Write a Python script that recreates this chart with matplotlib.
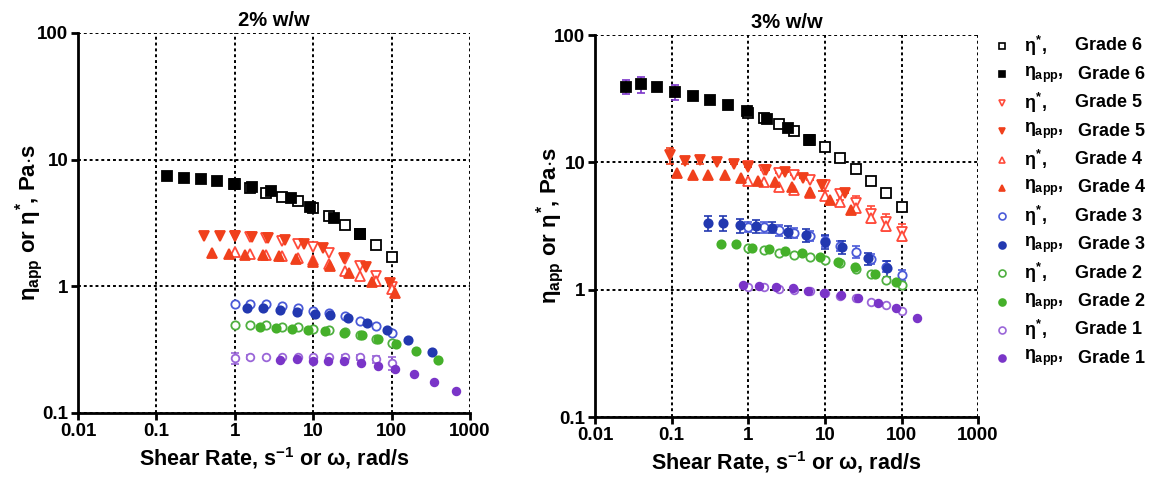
import matplotlib
matplotlib.use("Agg")
import matplotlib.pyplot as plt
from matplotlib.lines import Line2D

plt.rcParams['font.family'] = ['Liberation Sans', 'DejaVu Sans']
plt.rcParams['font.weight'] = 'bold'
plt.rcParams['mathtext.fontset'] = 'custom'
plt.rcParams['mathtext.rm'] = 'Liberation Sans:bold'
plt.rcParams['mathtext.it'] = 'Liberation Sans:bold'
plt.rcParams['mathtext.bf'] = 'Liberation Sans:bold'

# frequency sweep points used for eta*
omega = [1, 1.58, 2.51, 3.98, 6.31, 10, 15.8, 25.1, 39.8, 63.1, 100]

# ---- 2% w/w ----
g6_app_x_2 = [0.138, 0.225, 0.367, 0.588, 0.977, 1.64, 2.87, 5.16, 9.1, 18.4, 39.5]
g6_app_y_2 = [7.46, 7.2, 6.99, 6.74, 6.45, 6.04, 5.65, 5.0, 4.25, 3.46, 2.57]
g6_star_2 = [6.38, 5.95, 5.48, 5.1, 4.69, 4.13, 3.59, 3.06, 2.6, 2.13, 1.69]
g5_app_x_2 = [0.405, 0.648, 1.01, 1.67, 2.63, 4.37, 7.6, 13.2, 25, 46.8, 95]
g5_app_y_2 = [2.51, 2.51, 2.5, 2.45, 2.41, 2.32, 2.14, 2.0, 1.68, 1.41, 1.07]
g5_star_2 = [2.49, 2.45, 2.4, 2.29, 2.16, 2.03, 1.82, 1.65, 1.45, 1.21, 0.99]
g4_app_x_2 = [0.517, 0.851, 1.35, 2.31, 3.7, 6.04, 10, 16.4, 28.9, 55.7, 110]
g4_app_y_2 = [1.82, 1.80, 1.78, 1.76, 1.73, 1.65, 1.55, 1.45, 1.28, 1.09, 0.88]
g4_star_2 = [1.85, 1.80, 1.77, 1.73, 1.68, 1.60, 1.50, 1.33, 1.21, 1.10, 0.95]
g3_app_x_2 = [1.42, 2.31, 3.77, 6.15, 10.5, 16.4, 28, 48, 86.5, 163, 324]
g3_app_y_2 = [0.67, 0.67, 0.65, 0.63, 0.61, 0.594, 0.559, 0.516, 0.452, 0.377, 0.305]
g3_star_2 = [0.725, 0.725, 0.72, 0.70, 0.674, 0.635, 0.612, 0.583, 0.535, 0.486, 0.43]
g2_app_x_2 = [2.09, 3.35, 5.42, 8.67, 14.2, 24.7, 41.5, 66.4, 114, 205, 387]
g2_app_y_2 = [0.475, 0.466, 0.46, 0.452, 0.444, 0.43, 0.413, 0.386, 0.351, 0.309, 0.262]
g2_star_2 = [0.498, 0.492, 0.494, 0.48, 0.475, 0.46, 0.45, 0.439, 0.41, 0.386, 0.359]
g1_app_x_2 = [3.77, 6.15, 9.8, 15.5, 25, 41, 66.4, 110, 195, 351, 662]
g1_app_y_2 = [0.262, 0.265, 0.259, 0.259, 0.256, 0.249, 0.235, 0.221, 0.202, 0.177, 0.15]
g1_star_2 = [0.27, 0.275, 0.275, 0.278, 0.278, 0.278, 0.277, 0.278, 0.275, 0.265, 0.247]
g1_star_err_2 = [0.025, 0.01, 0, 0, 0, 0, 0, 0.01, 0.012, 0.015, 0.03]

# ---- 3% w/w ----
g6_app_x_3 = [0.025, 0.04, 0.065, 0.112, 0.188, 0.317, 0.55, 0.955, 1.74, 3.34, 6.28]
g6_app_y_3 = [39.3, 41, 39.3, 35.7, 33.2, 30.7, 28.2, 25.4, 22.1, 18.5, 15.0]
g6_app_err_3 = [5, 6, 3, 5, 0, 0, 0, 0, 0, 0, 0]
g6_star_3 = [24.3, 22.2, 20, 17.8, 15.0, 13.1, 10.9, 8.88, 7.15, 5.72, 4.5]
g5_app_x_3 = [0.095, 0.15, 0.235, 0.395, 0.65, 1.0, 1.7, 3.0, 5.24, 9.1, 18.4]
g5_app_y_3 = [11.4, 10.3, 10.4, 10.0, 9.7, 9.2, 8.7, 8.4, 7.6, 6.6, 5.7]
g5_app_err_3 = [1.6, 0.6, 0.6, 0, 0, 0, 0, 0, 0, 0.6, 0]
g5_star_3 = [9.3, 8.7, 8.2, 7.95, 7.3, 6.6, 5.6, 4.8, 3.95, 3.4, 2.85]
g5_star_err_3 = [0, 0, 0, 0, 0, 0.6, 0.5, 0.6, 0.6, 0.5, 0.45]
g4_app_x_3 = [0.116, 0.19, 0.30, 0.50, 0.805, 1.33, 2.24, 3.77, 6.4, 11.7, 22]
g4_app_y_3 = [8.2, 7.95, 7.95, 7.95, 7.49, 7.18, 6.97, 6.38, 5.88, 5.06, 4.22]
g4_star_3 = [7.1, 7.0, 6.45, 6.1, 5.8, 5.4, 4.9, 4.4, 3.65, 3.15, 2.65]
g3_app_x_3 = [0.30, 0.47, 0.77, 1.26, 2.03, 3.34, 5.7, 10.1, 16.6, 37, 64.3]
g3_app_y_3 = [3.36, 3.33, 3.21, 3.16, 3.08, 2.85, 2.69, 2.38, 2.17, 1.76, 1.47]
g3_app_err_3 = [0.45, 0.45, 0.4, 0.35, 0.3, 0.3, 0.3, 0.3, 0.25, 0.2, 0.2]
g3_star_3 = [3.12, 3.1, 2.95, 2.8, 2.65, 2.4, 2.2, 1.99, 1.75, 1.52, 1.30]
g3_star_err_3 = [0.3, 0.3, 0.3, 0.25, 0.25, 0.25, 0.2, 0.2, 0.15, 0.15, 0.12]
g2_app_x_3 = [0.437, 0.69, 1.11, 1.89, 3.02, 4.99, 8.65, 15, 24.8, 45, 85]
g2_app_y_3 = [2.27, 2.27, 2.13, 2.08, 2.01, 1.95, 1.81, 1.66, 1.5, 1.34, 1.15]
g2_star_3 = [2.13, 2.05, 1.95, 1.89, 1.81, 1.71, 1.61, 1.45, 1.34, 1.19, 1.09]
g1_app_x_3 = [0.847, 1.40, 2.31, 3.81, 6.1, 9.77, 16.3, 27.4, 49, 85, 158]
g1_app_y_3 = [1.09, 1.07, 1.06, 1.03, 0.986, 0.94, 0.906, 0.868, 0.784, 0.716, 0.598]
g1_star_3 = [1.05, 1.05, 1.02, 1.0, 0.986, 0.94, 0.90, 0.868, 0.808, 0.76, 0.675]

tick_vals_x = [0.01, 0.1, 1, 10, 100, 1000]
tick_labels_x = ["0.01", "0.1", "1", "10", "100", "1000"]
tick_vals_y = [0.1, 1, 10, 100]
tick_labels_y = ["0.1", "1", "10", "100"]
grades = ["Grade 6", "Grade 6", "Grade 5", "Grade 5", "Grade 4", "Grade 4",
          "Grade 3", "Grade 3", "Grade 2", "Grade 2", "Grade 1", "Grade 1"]

BLACK = "#000000"
RED_F = "#f0401c"
RED_O = "#ff4a3a"
BLUE_F = "#2238b0"
BLUE_O = "#4a5ad8"
GREEN_F = "#45b02a"
GREEN_O = "#4fb040"
PURP_F = "#7a35c8"
PURP_O = "#9a66d8"


def pts(ax, x, y, marker, color, filled, size, err=None, ecolor=None, z=3):
    """scatter one series, optional error bars"""
    if err is not None:
        ax.errorbar(x, y, yerr=err, fmt="none", ecolor=ecolor or color,
                    elinewidth=1.2, capsize=3, capthick=1.2, zorder=z - 0.5)
    ax.plot(x, y, ls="none", marker=marker, ms=size,
            mfc=color if filled else "white", mec=color, mew=1.3, zorder=z)


fig = plt.figure(figsize=(11.51, 4.8), dpi=100)
ax1 = fig.add_axes([0.0678, 0.1396, 0.3406, 0.7917])
ax2 = fig.add_axes([0.517, 0.131, 0.3328, 0.796])

# 2% panel
pts(ax1, omega, g6_star_2, "s", BLACK, False, 6.5)
pts(ax1, g6_app_x_2, g6_app_y_2, "s", BLACK, True, 6.5)
pts(ax1, omega, g5_star_2, "v", RED_O, False, 6.5)
pts(ax1, g5_app_x_2, g5_app_y_2, "v", RED_F, True, 6.5)
pts(ax1, omega, g4_star_2, "^", RED_O, False, 6.5)
pts(ax1, g4_app_x_2, g4_app_y_2, "^", RED_F, True, 6.5)
pts(ax1, omega, g3_star_2, "o", BLUE_O, False, 6)
pts(ax1, g3_app_x_2, g3_app_y_2, "o", BLUE_F, True, 6)
pts(ax1, omega, g2_star_2, "o", GREEN_O, False, 6)
pts(ax1, g2_app_x_2, g2_app_y_2, "o", GREEN_F, True, 6)
pts(ax1, omega, g1_star_2, "o", PURP_O, False, 5.5, err=g1_star_err_2)
pts(ax1, g1_app_x_2, g1_app_y_2, "o", PURP_F, True, 5.5)

# 3% panel
pts(ax2, omega, g6_star_3, "s", BLACK, False, 6.5)
pts(ax2, g6_app_x_3, g6_app_y_3, "s", BLACK, True, 6.5, err=g6_app_err_3, ecolor=PURP_F)
pts(ax2, omega, g5_star_3, "v", RED_O, False, 6.5, err=g5_star_err_3)
pts(ax2, g5_app_x_3, g5_app_y_3, "v", RED_F, True, 6.5, err=g5_app_err_3)
pts(ax2, omega, g4_star_3, "^", RED_O, False, 6.5)
pts(ax2, g4_app_x_3, g4_app_y_3, "^", RED_F, True, 6.5)
pts(ax2, omega, g3_star_3, "o", BLUE_O, False, 6, err=g3_star_err_3)
pts(ax2, g3_app_x_3, g3_app_y_3, "o", BLUE_F, True, 6, err=g3_app_err_3)
pts(ax2, omega, g2_star_3, "o", GREEN_O, False, 6)
pts(ax2, g2_app_x_3, g2_app_y_3, "o", GREEN_F, True, 6)
pts(ax2, omega, g1_star_3, "o", PURP_O, False, 5.5)
pts(ax2, g1_app_x_3, g1_app_y_3, "o", PURP_F, True, 5.5)

for ax, title, lab_x in [(ax1, "2% w/w", -0.084), (ax2, "3% w/w", -0.075)]:
    ax.set_xscale("log")
    ax.set_yscale("log")
    ax.set_xlim(0.01, 1000)
    ax.set_ylim(0.1, 100)
    ax.set_xticks(tick_vals_x, tick_labels_x)
    ax.set_yticks(tick_vals_y, tick_labels_y)
    ax.minorticks_off()
    ax.tick_params(labelsize=13.5, width=2, length=5, direction="out", pad=2)
    ax.grid(True, which="major", ls=(0, (1.5, 1.5)), color="k", lw=1.4)
    ax.spines["top"].set_visible(False)
    ax.spines["right"].set_visible(False)
    ax.spines["left"].set_linewidth(2)
    ax.spines["bottom"].set_linewidth(2)
    ax.set_title(title, fontsize=14.5, fontweight="bold", pad=5)
    ax.set_xlabel(r"Shear Rate, s$^{-1}$ or $\omega$, rad/s", fontsize=15.5, fontweight="bold")
    ax.set_ylabel(r"$\eta_{\mathrm{app}}$ or $\eta^{*}$, Pa$\cdot$s", fontsize=16, fontweight="bold")
    ax.yaxis.set_label_coords(lab_x, 0.5)
    for lbl in ax.get_xticklabels() + ax.get_yticklabels():
        lbl.set_fontweight("bold")

# legend, laid out row by row
legend_marks = [("s", BLACK, False), ("s", BLACK, True),
                ("v", RED_O, False), ("v", RED_F, True),
                ("^", RED_O, False), ("^", RED_F, True),
                ("o", BLUE_O, False), ("o", BLUE_F, True),
                ("o", GREEN_O, False), ("o", GREEN_F, True),
                ("o", PURP_O, False), ("o", PURP_F, True)]
W, H = 1151.0, 480.0
for i, ((m, c, f), g) in enumerate(zip(legend_marks, grades)):
    yy = 1 - (46 + i * 28.4) / H
    fig.add_artist(Line2D([1002 / W], [yy], transform=fig.transFigure, ls="none",
                          marker=m, ms=5, mfc=c if f else "white", mec=c, mew=1.2))
    if i % 2 == 0:
        fig.text(1024 / W, yy, r"$\eta^{*}$,", fontsize=13, fontweight="bold", va="center")
        fig.text(1075 / W, yy, g, fontsize=13, fontweight="bold", va="center")
    else:
        fig.text(1024 / W, yy, r"$\eta_{\mathrm{app}}$,", fontsize=13, fontweight="bold", va="center")
        fig.text(1078 / W, yy, g, fontsize=13, fontweight="bold", va="center")

fig.savefig("out.png", dpi=100)
